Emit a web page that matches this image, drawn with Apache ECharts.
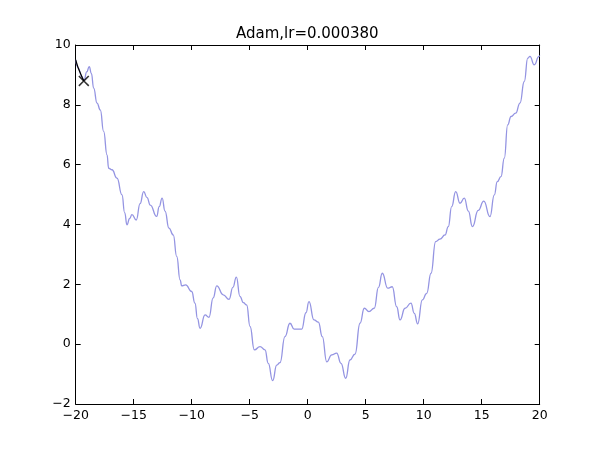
<!DOCTYPE html>
<html>
<head>
<meta charset="utf-8">
<script src="https://cdn.jsdelivr.net/npm/echarts@6/dist/echarts.min.js"></script>
<style>html,body{margin:0;padding:0;background:#fff}#c{width:600px;height:450px}</style>
</head>
<body>
<div id="c"></div>
<script>
const titleText = "Adam,lr=0.000380";
const curveX = [-20.00,-19.78,-19.48,-19.28,-19.05,-18.83,-18.65,-18.45,-18.16,-17.88,-17.59,-17.30,-17.16,-16.87,-16.44,-16.01,-15.78,-15.58,-15.35,-15.15,-14.78,-14.45,-14.14,-13.85,-13.57,-13.02,-12.80,-12.55,-12.30,-11.96,-11.59,-11.29,-11.00,-10.86,-10.52,-10.00,-9.72,-9.50,-9.28,-8.85,-8.51,-8.15,-7.84,-7.28,-6.78,-6.45,-6.15,-5.84,-5.55,-5.26,-4.97,-4.60,-4.11,-3.68,-3.40,-3.02,-2.67,-2.39,-1.96,-1.53,-1.16,-0.52,-0.15,0.11,0.54,0.92,1.26,1.64,2.07,2.50,2.87,3.28,3.64,4.08,4.51,4.88,5.28,5.74,6.10,6.43,6.90,7.29,7.67,7.96,8.39,8.90,9.19,9.48,9.88,10.26,10.63,11.03,11.40,11.84,12.12,12.41,12.76,13.13,13.50,13.85,14.20,14.70,15.18,15.71,16.09,16.34,16.66,16.95,17.24,17.53,17.93,18.30,18.67,18.97,19.16,19.53,19.94,20.00];
const curveY = [9.50,9.23,8.95,8.82,9.10,9.28,9.05,8.56,8.06,7.83,7.11,6.33,5.88,5.83,5.55,4.99,4.40,3.99,4.20,4.33,4.15,4.70,5.10,4.90,4.65,4.27,4.60,4.88,4.45,3.88,3.65,2.93,2.15,1.95,1.98,1.76,1.37,0.85,0.53,0.98,0.90,1.55,1.95,1.65,1.50,1.90,2.24,1.60,1.39,1.31,0.59,-0.19,-0.08,-0.19,-0.64,-1.22,-0.70,-0.62,0.25,0.70,0.50,0.50,1.05,1.42,0.81,0.74,0.25,-0.59,-0.36,-0.30,-0.64,-1.14,-0.53,-0.33,0.70,1.20,1.09,1.20,1.90,2.37,1.87,1.92,1.25,0.81,1.20,1.37,1.03,0.68,1.48,1.70,2.37,3.43,3.51,3.65,3.93,4.60,5.10,4.71,4.88,4.45,3.93,4.47,4.78,4.26,4.99,5.43,5.60,6.22,7.33,7.61,7.72,8.06,8.78,9.56,9.62,9.34,9.62,9.65];
const pathX = [-20.00,-19.78,-19.48,-19.30];
const pathY = [9.50,9.23,8.95,8.80];
const xTicks = ["\u221220","\u221215","\u221210","\u22125","0","5","10","15","20"];
const yTicks = ["\u22122","0","2","4","6","8","10"];

const curveData = curveX.map((x,i)=>[x,curveY[i]]);
const pathData = pathX.map((x,i)=>[x,pathY[i]]);
const lastPt = [pathData[pathData.length-1]];

const font = "DejaVu Sans";
const fmtX = v => { const i = Math.round((v+20)/5); return xTicks[i] !== undefined ? xTicks[i] : ""; };
const fmtY = v => { const i = Math.round((v+2)/2); return yTicks[i] !== undefined ? yTicks[i] : ""; };
const axisCommon = {
  type:'value', splitLine:{show:false},
  axisLine:{show:true,onZero:false,lineStyle:{color:'#000',width:1}},
  axisTick:{show:true,inside:true,length:5,lineStyle:{color:'#000',width:1}}
};
const chart = echarts.init(document.getElementById('c'), null, {renderer:'canvas'});
chart.setOption({
  animation:false,
  backgroundColor:'#fff',
  title:{text:titleText,left:236,top:27,padding:0,
    textStyle:{fontFamily:font,fontSize:15,fontWeight:'normal',color:'#000'}},
  grid:{left:75.7,right:60.3,top:45,bottom:46,containLabel:false},
  xAxis:[
    Object.assign({},axisCommon,{position:'bottom',min:-20,max:20,interval:5,
      axisLabel:{show:true,margin:5,formatter:fmtX,fontFamily:font,fontSize:12.5,color:'#000'}}),
    Object.assign({},axisCommon,{position:'top',min:-20,max:20,interval:5,axisLabel:{show:false}})
  ],
  yAxis:[
    Object.assign({},axisCommon,{position:'left',min:-2,max:10,interval:2,
      axisLabel:{show:true,margin:5,formatter:fmtY,fontFamily:font,fontSize:12.5,color:'#000'}}),
    Object.assign({},axisCommon,{position:'right',min:-2,max:10,interval:2,axisLabel:{show:false}})
  ],
  series:[
    {type:'line',data:curveData,showSymbol:false,smooth:0.5,smoothMonotone:'x',
      lineStyle:{color:'#9494e2',width:1.3},z:2},
    {type:'line',data:pathData,showSymbol:false,smooth:0.3,
      lineStyle:{color:'#000',width:1.2},z:3},
    {type:'scatter',data:lastPt,symbol:'path://M0,1L1,0L5,4L9,0L10,1L6,5L10,9L9,10L5,6L1,10L0,9L4,5Z',
      symbolSize:11,itemStyle:{color:'#000'},z:4}
  ]
});
</script>
</body>
</html>
